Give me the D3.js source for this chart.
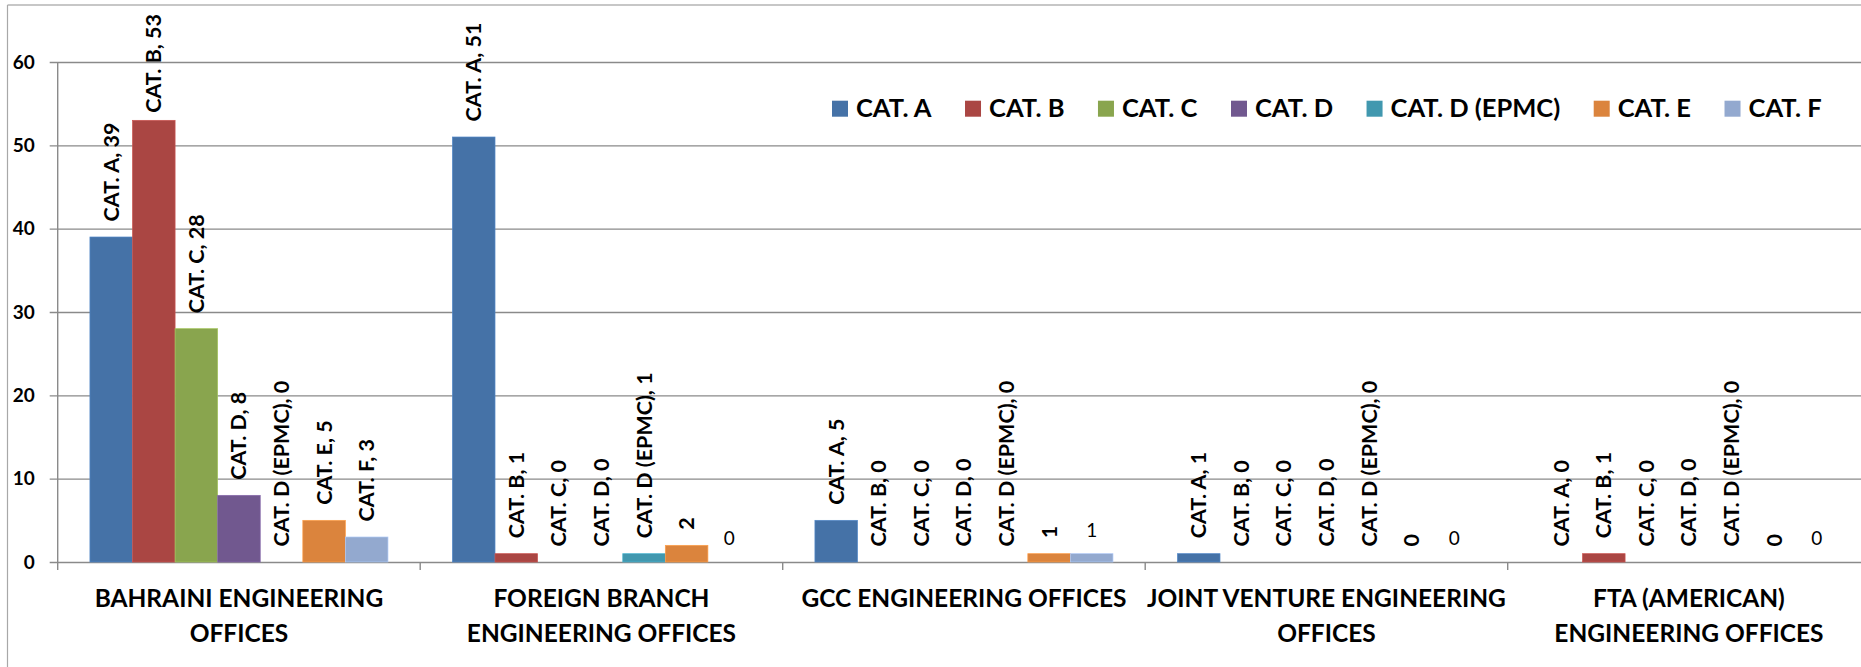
<!DOCTYPE html>
<html>
<head>
<meta charset="utf-8">
<script src="https://cdnjs.cloudflare.com/ajax/libs/d3/7.8.5/d3.min.js"></script>
<style>
	body { margin: 0; background: #ffffff; }
	#chart_div { width: 1861px; height: 667px; overflow: hidden; }
	text { font-family: Lato, 'Open Sans', sans-serif; fill: #000000; }
</style>
</head>
<body>
<div id="chart_div"></div>
<script>
// categories (line breaks as in the original axis labels)
var groups = [
	'BAHRAINI ENGINEERING\nOFFICES',
	'FOREIGN BRANCH\nENGINEERING OFFICES',
	'GCC ENGINEERING OFFICES',
	'JOINT VENTURE ENGINEERING\nOFFICES',
	'FTA (AMERICAN)\nENGINEERING OFFICES'
];
var series_names = ['CAT. A', 'CAT. B', 'CAT. C', 'CAT. D', 'CAT. D (EPMC)', 'CAT. E', 'CAT. F'];

// values per series, one per group
var cat_a = [39, 51, 5, 1, 0];
var cat_b = [53, 1, 0, 0, 1];
var cat_c = [28, 0, 0, 0, 0];
var cat_d = [8, 0, 0, 0, 0];
var cat_d_epmc = [0, 1, 0, 0, 0];
var cat_e = [5, 2, 1, 0, 0];
var cat_f = [3, 0, 1, 0, 0];

var y_ticks = [0, 10, 20, 30, 40, 50, 60];

// how each data label reads: full = "CAT. X, v", value = "v" (rotated), plain = "v" flat
var cat_e_labels = ['full', 'value', 'value', 'value', 'value'];
var cat_f_labels = ['full', 'plain', 'plain', 'plain', 'plain'];

var series_colours = ['#4572A7', '#AA4643', '#89A54E', '#71588F', '#4198AF', '#DB843D', '#93A9CF'];

function build_series() {
	var all_values = [cat_a, cat_b, cat_c, cat_d, cat_d_epmc, cat_e, cat_f];
	var label_kinds = {'CAT. E': cat_e_labels, 'CAT. F': cat_f_labels};
	var rows = [];
	for (var g in groups) {
		for (var s in series_names) {
			var kinds = label_kinds[series_names[s]];
			rows.push({
				group: groups[g],
				series: series_names[s],
				value: all_values[s][g],
				colour: series_colours[s],
				label: kinds ? kinds[g] : 'full'
			});
		}
	}
	return rows;
}

function draw_svg(div_id) {
	var chart_div = document.getElementById(div_id);
	var svg = d3
		.select('#' + div_id)
		.append('svg')
		.attr('width', chart_div.clientWidth)
		.attr('height', chart_div.clientHeight);
	return svg;
}

function draw_chart() {
	var svg = draw_svg('chart_div');
	var rows = build_series();

	var left = 57.7;
	var group_width = 362.5;

	var x0 = d3
		.scaleBand()
		.domain(groups)
		.range([left, left + group_width * groups.length])
		.padding(0);
	var x1 = d3
		.scaleBand()
		.domain(series_names)
		.range([0, x0.bandwidth()])
		.paddingInner(0)
		.paddingOuter(0.757);
	var y = d3.scaleLinear().domain([0, 60]).range([562, 62]);

	// chart frame
	svg.append('line')
		.attr('x1', 7.5).attr('x2', 1861)
		.attr('y1', 5).attr('y2', 5)
		.attr('stroke', '#b4b4b4')
		.attr('stroke-width', 1.6);
	svg.append('line')
		.attr('x1', 7.5).attr('x2', 7.5)
		.attr('y1', 5).attr('y2', 667)
		.attr('stroke', '#a8a8a8')
		.attr('stroke-width', 1.2);

	// gridlines + y axis
	var y_axis = d3
		.axisLeft(y)
		.tickValues(y_ticks)
		.tickSize(-(1861 - left))
		.tickPadding(23);
	var y_g = svg.append('g')
		.attr('class', 'y_axis')
		.attr('transform', 'translate(' + left + ',0)')
		.call(y_axis);
	y_g.select('.domain').remove();
	y_g.selectAll('.tick line')
		.attr('x1', -8)
		.attr('stroke', '#8a8a8a')
		.attr('stroke-width', 1.4);
	y_g.selectAll('.tick text')
		.attr('font-family', 'Lato, sans-serif')
		.attr('font-weight', 'bold')
		.attr('font-size', 19)
		.attr('fill', '#000');

	svg.append('line')
		.attr('x1', left).attr('x2', left)
		.attr('y1', y(60)).attr('y2', 570)
		.attr('stroke', '#8a8a8a')
		.attr('stroke-width', 1.4);

	// category ticks
	svg.selectAll('.x_tick')
		.data(groups)
		.enter()
		.append('line')
		.attr('class', 'x_tick')
		.attr('x1', (d) => x0(d) + x0.bandwidth())
		.attr('x2', (d) => x0(d) + x0.bandwidth())
		.attr('y1', y(0))
		.attr('y2', 570)
		.attr('stroke', '#8a8a8a')
		.attr('stroke-width', 1.4);

	// bars
	svg.selectAll('.bar')
		.data(rows.filter((d) => d.value > 0))
		.enter()
		.append('rect')
		.attr('class', 'bar')
		.attr('x', (d) => x0(d.group) + x1(d.series))
		.attr('y', (d) => y(d.value))
		.attr('width', x1.bandwidth())
		.attr('height', (d) => y(0) - y(d.value))
		.attr('fill', (d) => d.colour)
		.attr('stroke', (d) => d3.color(d.colour).brighter(0.5))
		.attr('stroke-width', 0.7);

	// data labels
	var label_gap = 15.5;
	rows.forEach(function (d) {
		var cx = x0(d.group) + x1(d.series) + x1.bandwidth() / 2;
		if (d.label === 'plain') {
			svg.append('text')
				.attr('x', cx)
				.attr('y', y(d.value) - 17)
				.attr('text-anchor', 'middle')
				.attr('font-size', 19)
				.text(d.value);
			return;
		}
		var txt = svg.append('text')
			.attr('font-weight', 'bold')
			.attr('font-size', 21.5)
			.attr('dy', '0.35em')
			.text(d.label === 'full' ? d.series + ', ' + d.value : d.value);
		var len = txt.node().getComputedTextLength();
		var start = Math.max(y(d.value) - label_gap, 14 + len);
		txt.attr('transform', 'translate(' + cx + ',' + start + ') rotate(-90)');
	});

	// category labels
	groups.forEach(function (g) {
		var lines = g.split('\n');
		var t = svg.append('text')
			.attr('text-anchor', 'middle')
			.attr('font-weight', 'bold')
			.attr('font-size', 24.5);
		lines.forEach(function (l, i) {
			t.append('tspan')
				.attr('x', x0(g) + x0.bandwidth() / 2)
				.attr('y', 607 + i * 35)
				.text(l);
		});
	});

	draw_legend(svg);
}

function draw_legend(svg) {
	var legend = svg.append('g').attr('class', 'legend');
	var pos_x = 832;
	series_names.forEach(function (s, i) {
		legend.append('rect')
			.attr('x', pos_x)
			.attr('y', 100.7)
			.attr('width', 16)
			.attr('height', 16)
			.attr('fill', series_colours[i]);
		var t = legend.append('text')
			.attr('x', pos_x + 24)
			.attr('y', 116.7)
			.attr('font-weight', 'bold')
			.attr('font-size', 25.5)
			.text(s);
		pos_x += 24 + t.node().getComputedTextLength() + 33.5;
	});
}

draw_chart();
</script>
</body>
</html>
